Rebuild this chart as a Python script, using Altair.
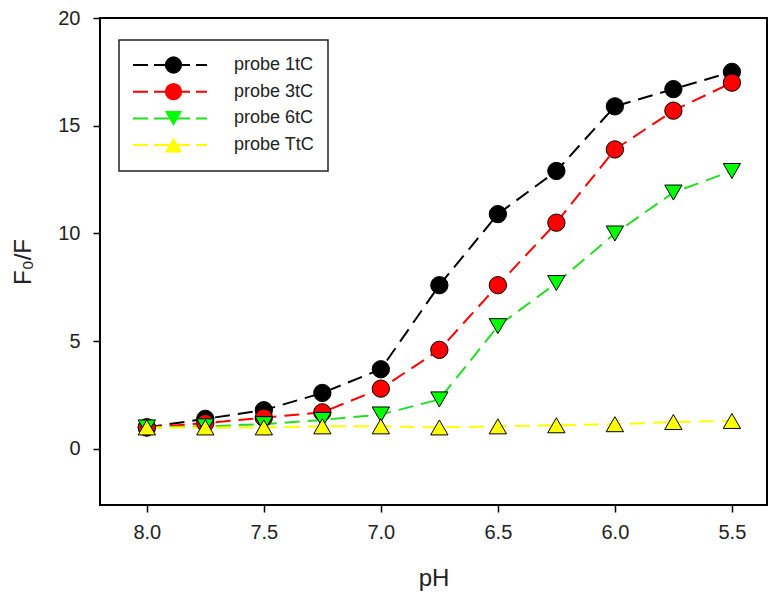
import altair as alt
import pandas as pd

# ---- data ----
ph_values = [8.0, 7.75, 7.5, 7.25, 7.0, 6.75, 6.5, 6.25, 6.0, 5.75, 5.5]
probe_1tC = [1.0, 1.4, 1.8, 2.6, 3.7, 7.6, 10.9, 12.9, 15.9, 16.7, 17.5]
probe_3tC = [1.0, 1.2, 1.45, 1.7, 2.8, 4.6, 7.6, 10.5, 13.9, 15.7, 17.0]
probe_6tC = [1.0, 1.05, 1.15, 1.35, 1.6, 2.3, 5.7, 7.7, 10.0, 11.9, 12.9]
probe_TtC = [1.0, 1.0, 1.0, 1.05, 1.05, 1.0, 1.05, 1.1, 1.15, 1.25, 1.3]

series_names = ["probe 1tC", "probe 3tC", "probe 6tC", "probe TtC"]
series_values = [probe_1tC, probe_3tC, probe_6tC, probe_TtC]
line_colors = ["#000000", "#ff0000", "#22dd22", "#ffff00"]
fill_colors = ["#000000", "#ff0000", "#00ff00", "#ffff00"]
marker_shapes = ["circle", "circle", "triangle-down", "triangle-up"]

x_ticks = [8.0, 7.5, 7.0, 6.5, 6.0, 5.5]
y_ticks = [0, 5, 10, 15, 20]

rows = []
for name, vals in zip(series_names, series_values):
    for p, v in zip(ph_values, vals):
        rows.append({"pH": p, "F0F": v, "series": name})
df = pd.DataFrame(rows)

FONT = "Liberation Sans"
NBSP = "\u00a0"

x_enc = alt.X(
    "pH:Q",
    scale=alt.Scale(domain=[5.35, 8.2], reverse=True, nice=False, zero=False),
    axis=alt.Axis(values=x_ticks, format=".1f", title="pH", labelPadding=10, titlePadding=24),
)
y_enc = alt.Y(
    "F0F:Q",
    scale=alt.Scale(domain=[-2.6, 20], nice=False, zero=False),
    axis=alt.Axis(values=y_ticks, title="F₀/F", labelPadding=13, titlePadding=22),
)

line_legend = alt.Legend(
    title=None, orient="none", legendX=19, legendY=22,
    symbolType="stroke", symbolSize=74 * 74, symbolStrokeWidth=2, symbolDash=[15, 6],
    padding=13, strokeColor="#222222", fillColor="white",
    clipHeight=24, rowPadding=2.7, labelOffset=26,
    labelExpr="datum.label + '" + NBSP * 2 + "'",
    labelFont=FONT, labelFontSize=18, labelColor="#222222", zindex=0,
)
marker_legend = alt.Legend(
    title=None, orient="none", legendX=19, legendY=22,
    symbolSize=300, symbolStrokeColor="black", symbolStrokeWidth=1, symbolOffset=32,
    padding=13, clipHeight=24, rowPadding=2.7, labelOffset=26,
    labelExpr="''",
    labelFont=FONT, labelFontSize=18, zindex=1,
)

lines = alt.Chart(df).mark_line(strokeDash=[15, 8], strokeWidth=2).encode(
    x=x_enc,
    y=y_enc,
    color=alt.Color("series:N", scale=alt.Scale(range=line_colors), legend=line_legend),
)

points = alt.Chart(df).transform_calculate(series_pt="datum.series").mark_point(
    filled=True, size=300, stroke="black", strokeWidth=1, opacity=1
).encode(
    x=x_enc,
    y=y_enc,
    fill=alt.Fill("series_pt:N", scale=alt.Scale(range=fill_colors), legend=marker_legend),
    shape=alt.Shape("series_pt:N", scale=alt.Scale(range=marker_shapes), legend=marker_legend),
)

chart = alt.layer(lines, points).properties(
    width=667,
    height=487,
    autosize=alt.AutoSizeParams(type="none"),
    padding={"left": 92, "top": 10, "right": 5, "bottom": 92},
    background="white",
).configure_view(
    stroke="black", strokeWidth=2
).configure_axis(
    grid=False, domain=False, tickColor="black", tickWidth=1.5, tickSize=7,
    labelFont=FONT, labelFontSize=20, labelColor="#222222",
    titleFont=FONT, titleFontSize=24, titleFontWeight="normal", titleColor="#222222",
).configure_legend(
    strokeWidth=1.5
)

chart.save("out.html", embed_options={"renderer": "svg", "actions": False})
